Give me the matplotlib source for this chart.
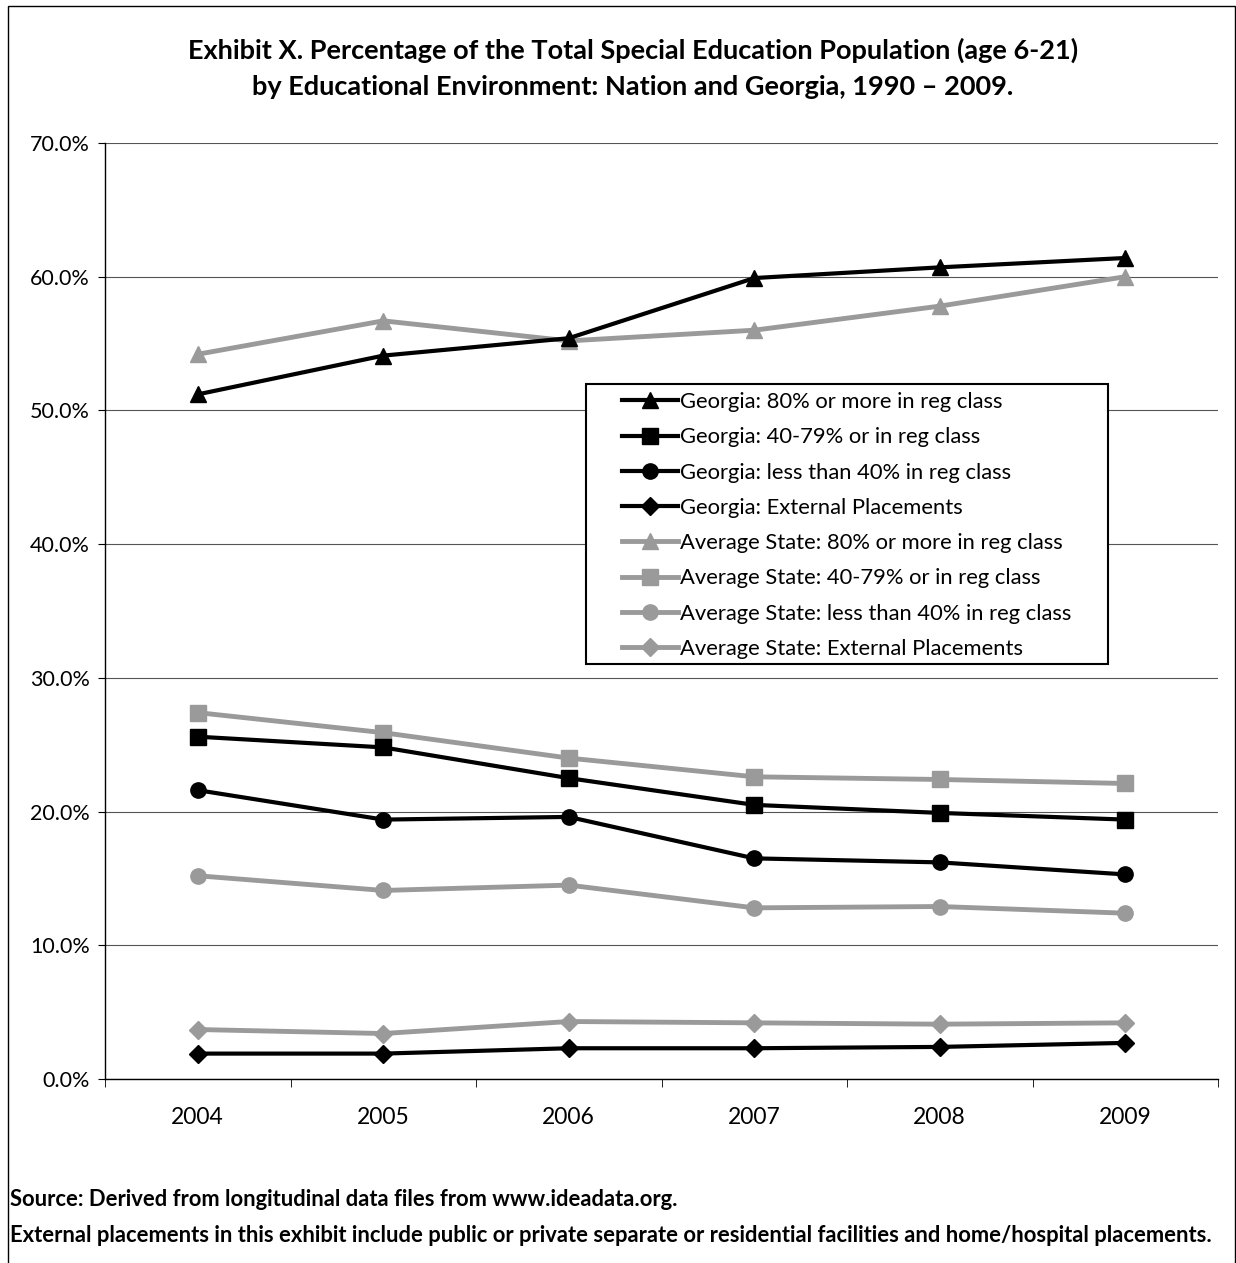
import matplotlib
matplotlib.use("Agg")
import matplotlib.pyplot as plt
from matplotlib.patches import Rectangle
from matplotlib.ticker import FixedLocator, NullFormatter

plt.rcParams['font.family'] = ['Lato', 'DejaVu Sans']

years = ["2004", "2005", "2006", "2007", "2008", "2009"]

ga_80_plus = [51.2, 54.1, 55.4, 59.9, 60.7, 61.4]
ga_40_79 = [25.6, 24.8, 22.5, 20.5, 19.9, 19.4]
ga_lt_40 = [21.6, 19.4, 19.6, 16.5, 16.2, 15.3]
ga_external = [1.9, 1.9, 2.3, 2.3, 2.4, 2.7]

avg_80_plus = [54.2, 56.7, 55.2, 56.0, 57.8, 60.0]
avg_40_79 = [27.4, 25.9, 24.0, 22.6, 22.4, 22.1]
avg_lt_40 = [15.2, 14.1, 14.5, 12.8, 12.9, 12.4]
avg_external = [3.7, 3.4, 4.3, 4.2, 4.1, 4.2]

labels = [
    "Georgia: 80% or more in reg class",
    "Georgia: 40-79% or in reg class",
    "Georgia: less than 40% in reg class",
    "Georgia: External Placements",
    "Average State: 80% or more in reg class",
    "Average State: 40-79% or in reg class",
    "Average State: less than 40% in reg class",
    "Average State: External Placements",
]

yticks = [0, 10, 20, 30, 40, 50, 60, 70]

W, H = 1236, 1263
fig = plt.figure(figsize=(W / 100, H / 100), dpi=100)
ax = fig.add_axes([105 / W, 1 - 1079 / H, (1218 - 105) / W, (1079 - 143) / H])

x = list(range(len(years)))
black = "#000000"
gray = "#9a9a9a"

series = [
    (ga_80_plus, "^", black, 12),
    (ga_40_79, "s", black, 11),
    (ga_lt_40, "o", black, 11),
    (ga_external, "D", black, 9),
    (avg_80_plus, "^", gray, 12),
    (avg_40_79, "s", gray, 11),
    (avg_lt_40, "o", gray, 11),
    (avg_external, "D", gray, 9),
]

handles = []
for (vals, mk, col, ms), lab in zip(series, labels):
    z = 3 if col == black else 2
    h, = ax.plot(x, vals, marker=mk, color=col, markerfacecolor=col,
                 markeredgecolor=col, markersize=ms, linewidth=3 if col == black else 3.5,
                 label=lab, zorder=z)
    handles.append(h)

ax.set_xlim(-0.5, 5.5)
ax.set_ylim(0, 70)
ax.set_yticks(yticks)
ax.set_yticklabels([f"{v:.1f}%" for v in yticks], fontsize=15.5)
ax.set_xticks(x)
ax.set_xticklabels(years, fontsize=16.5)
ax.tick_params(axis='x', which='major', length=0, pad=20)
ax.xaxis.set_minor_locator(FixedLocator([i + 0.5 for i in range(-1, 6)]))
ax.xaxis.set_minor_formatter(NullFormatter())
ax.tick_params(axis='x', which='minor', length=6, direction='out', color=black)
ax.tick_params(axis='y', length=5, direction='out', pad=6)

ax.grid(axis='y', color='#555555', linewidth=0.8)
ax.set_axisbelow(True)
for side in ("top", "right"):
    ax.spines[side].set_visible(False)
ax.spines['left'].set_linewidth(1.0)
ax.spines['bottom'].set_linewidth(1.0)

# legend box drawn separately so the padding can be wider at the sides
fig.patches.append(Rectangle((586 / W, 1 - 664 / H), (1108 - 586) / W, (664 - 384) / H,
                             transform=fig.transFigure, facecolor='white',
                             edgecolor=black, linewidth=1.5, zorder=4))
leg = fig.legend(handles=handles, loc='upper left',
                 bbox_to_anchor=(622 / W, 1 - 392 / H),
                 fontsize=15.8, frameon=False,
                 handlelength=2.55, handletextpad=0.1, labelspacing=0.695,
                 borderpad=0, borderaxespad=0)
leg.set_zorder(5)

fig.text(633 / W, 1 - 50 / H,
         "Exhibit X. Percentage of the Total Special Education Population (age 6-21)",
         ha='center', va='center', fontsize=19.5, fontweight='bold')
fig.text(633 / W, 1 - 87 / H,
         "by Educational Environment: Nation and Georgia, 1990 \u2013 2009.",
         ha='center', va='center', fontsize=19.5, fontweight='bold')

fig.text(10 / W, 1 - 1200 / H,
         "Source: Derived from longitudinal data files from www.ideadata.org.",
         ha='left', va='center', fontsize=15.8, fontweight='bold')
fig.text(10 / W, 1 - 1235 / H,
         "External placements in this exhibit include public or private separate or residential facilities and home/hospital placements.",
         ha='left', va='center', fontsize=15.8, fontweight='bold')

fig.patches.append(Rectangle((8 / W, -0.01), (1235 - 8) / W, 1.01 - 6 / H,
                             transform=fig.transFigure, fill=False,
                             edgecolor=black, linewidth=1.0))

fig.savefig("out.png", dpi=100)
